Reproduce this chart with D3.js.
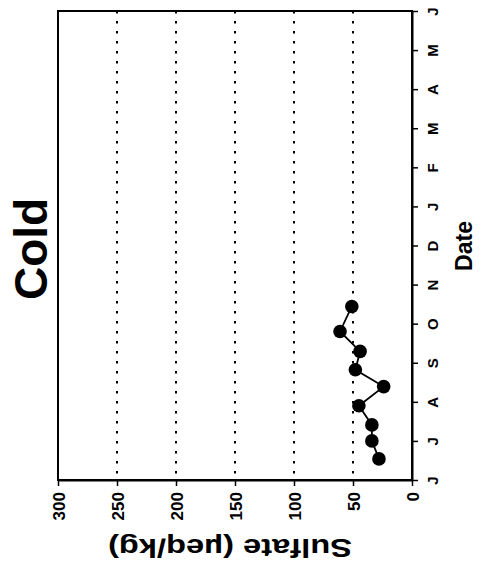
<!DOCTYPE html>
<html>
<head>
<meta charset="utf-8">
<script src="https://cdn.jsdelivr.net/npm/d3@7"></script>
<style>
  body { margin: 0; background: #fff; }
  svg { display: block; }
  text { font-family: "Liberation Sans", Arial, sans-serif; font-weight: bold; fill: #000; }
</style>
</head>
<body>
<svg width="493" height="568"></svg>
<script>
// months from June to June, the sample dates as month offsets from June 1
const monthLabels = ['J', 'J', 'A', 'S', 'O', 'N', 'D', 'J', 'F', 'M', 'A', 'M', 'J'];
const sampleMonth = [0.54, 1.0, 1.41, 1.9, 2.39, 2.82, 3.29, 3.8, 4.44];
const sulfate = [28, 34, 34, 45, 24, 48, 44, 61, 51];
const sulfateTicks = [0, 50, 100, 150, 200, 250, 300];
const gridValues = [50, 100, 150, 200, 250];

const data = sampleMonth.map((m, i) => ({ month: m, value: sulfate[i] }));

const svg = d3.select('svg');
const plotLeft = 58, plotRight = 412, plotTop = 11, plotBottom = 480;

// the chart is printed turned on its side: sulfate runs right to left, date bottom to top
const x = d3.scaleLinear().domain([0, 300]).range([plotRight, plotLeft]);
const y = d3.scaleLinear().domain([0, 12]).range([plotBottom, plotTop]);

// dotted grid
svg.append('g')
  .selectAll('line')
  .data(gridValues)
  .enter()
  .append('line')
  .attr('x1', d => x(d))
  .attr('x2', d => x(d))
  .attr('y1', plotTop)
  .attr('y2', plotBottom)
  .attr('stroke', '#000')
  .attr('stroke-width', 2)
  .attr('stroke-dasharray', '2.5,7.5');

// frame
svg.append('rect')
  .attr('x', plotLeft)
  .attr('y', plotTop)
  .attr('width', plotRight - plotLeft)
  .attr('height', plotBottom - plotTop)
  .attr('fill', 'none')
  .attr('stroke', '#000')
  .attr('stroke-width', 2);

const xAxis = svg.append('g')
  .attr('transform', `translate(0,${plotBottom})`)
  .call(d3.axisBottom(x).tickValues(sulfateTicks).tickSize(6).tickSizeOuter(0));
xAxis.select('.domain').attr('stroke-width', 2);
xAxis.selectAll('.tick line').attr('stroke-width', 1.5);
xAxis.selectAll('text')
  .attr('y', null)
  .attr('dy', '0.36em')
  .attr('x', -12)
  .attr('transform', 'rotate(-90)')
  .attr('text-anchor', 'end')
  .style('font-size', '17px')
  .style('font-family', '"Liberation Sans", Arial, sans-serif')
  .style('font-weight', 'bold');

const yAxis = svg.append('g')
  .attr('transform', `translate(${plotRight},0)`)
  .call(d3.axisRight(y).tickValues(d3.range(13)).tickFormat(i => monthLabels[i]).tickSize(6).tickSizeOuter(0));
yAxis.select('.domain').attr('stroke-width', 2);
yAxis.selectAll('.tick line').attr('stroke-width', 1.5);
yAxis.selectAll('text')
  .attr('x', null)
  .attr('dy', '0.36em')
  .attr('transform', 'translate(21,0) rotate(-90)')
  .attr('text-anchor', 'middle')
  .style('font-size', '15px')
  .style('font-family', '"Liberation Sans", Arial, sans-serif')
  .style('font-weight', 'bold');

// connecting line and markers
svg.append('path')
  .datum(data)
  .attr('fill', 'none')
  .attr('stroke', '#000')
  .attr('stroke-width', 1.8)
  .attr('d', d3.line().x(d => x(d.value)).y(d => y(d.month)));

svg.append('g')
  .selectAll('circle')
  .data(data)
  .enter()
  .append('circle')
  .attr('cx', d => x(d.value))
  .attr('cy', d => y(d.month))
  .attr('r', 6.8)
  .attr('fill', '#000');

// titles
svg.append('text')
  .attr('transform', 'translate(47,249) rotate(-90)')
  .attr('text-anchor', 'middle')
  .style('font-size', '46px')
  .text('Cold');

svg.append('text')
  .attr('transform', 'translate(472,246) rotate(-90)')
  .attr('text-anchor', 'middle')
  .style('font-size', '23px')
  .text('Date');

svg.append('text')
  .attr('transform', 'translate(230,539) rotate(180)')
  .attr('text-anchor', 'middle')
  .attr('textLength', 244)
  .attr('lengthAdjust', 'spacingAndGlyphs')
  .style('font-size', '26px')
  .text('Sulfate (µeq/kg)');
</script>
</body>
</html>
